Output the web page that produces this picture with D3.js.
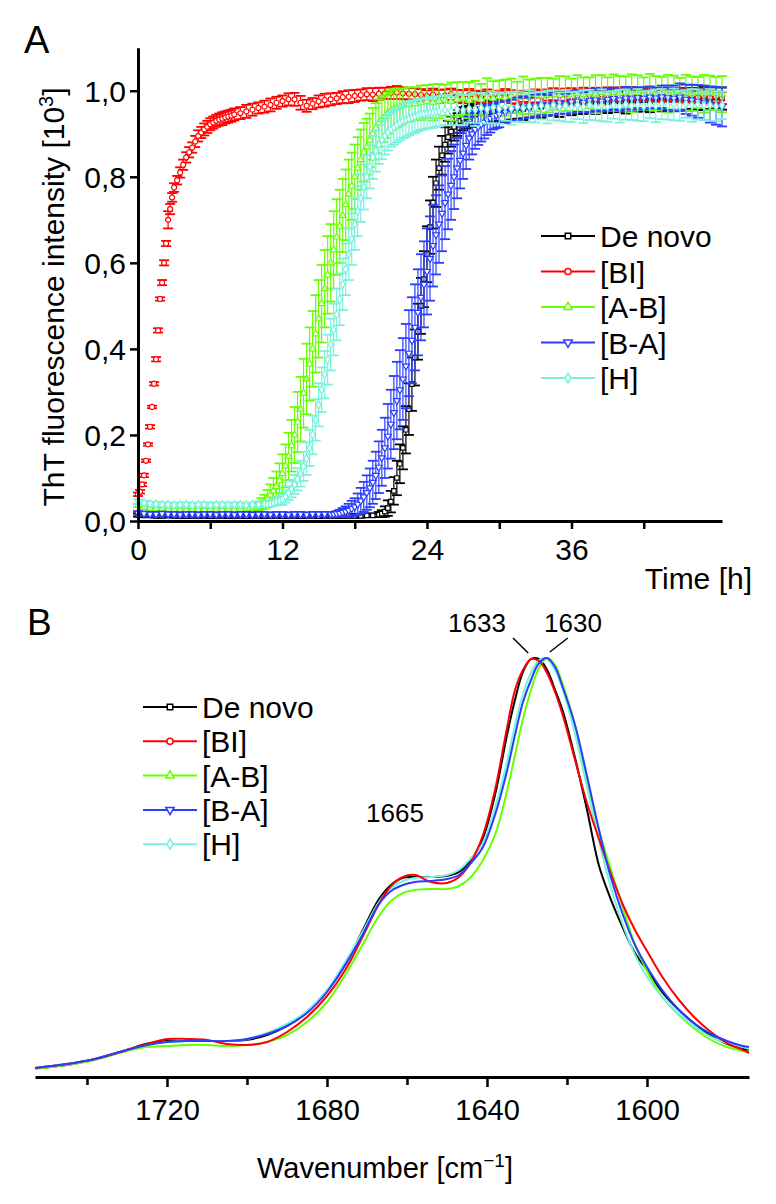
<!DOCTYPE html>
<html><head><meta charset="utf-8">
<script src="https://cdn.jsdelivr.net/npm/d3@7"></script>
<style>
body{margin:0;background:#fff}
svg{display:block}
text{font-family:"Liberation Sans",Arial,Helvetica,sans-serif;fill:#000}
</style>
</head><body>
<svg id="c" width="776" height="1204"></svg>
<script>
// ---------------- DATA ----------------
const seriesNames = ["De novo", "[BI]", "[A-B]", "[B-A]", "[H]"];
const seriesColors = ["#000000", "#ff0000", "#66ff00", "#2a3cff", "#78f2dc"];
const seriesSymbols = ["square", "circle", "triangle", "triangleDown", "diamond"];

// Panel A: ThT fluorescence (x 10^3) vs time [h]; sampling is denser during the growth phase
const deNovoTime = [0,0.5,1,1.5,2,2.5,3,3.5,4,4.5,5,5.5,6,6.5,7,7.5,8,8.5,9,9.5,10,10.5,11,11.5,12,12.5,13,13.5,14,14.5,15,15.5,16,16.5,17,17.5,18,18.5,19,19.5,20,
20.25,20.5,20.75,21,21.25,21.5,21.75,22,22.25,22.5,22.75,23,23.25,23.5,23.75,24,24.25,24.5,24.75,25,25.25,25.5,25.75,26,26.25,26.5,26.75,27,27.25,27.5,27.75,28,
28.5,29,29.5,30,30.5,31,31.5,32,32.5,33,33.5,34,34.5,35,35.5,36,36.5,37,37.5,38,38.5,39,39.5,40,40.5,41,41.5,42,42.5,43,43.5,44,44.5,45,45.5,46,46.5,47,47.5,48,48.5];
const deNovoVal = [0.014,0.013,0.013,0.012,0.012,0.013,0.012,0.012,0.011,0.012,0.012,0.012,0.011,0.012,0.012,0.011,0.012,0.012,0.011,0.012,0.012,0.011,0.012,0.012,0.011,0.012,0.012,0.011,0.012,0.012,0.011,0.012,0.012,0.011,0.012,0.012,0.012,0.012,0.013,0.013,0.015,
0.017,0.022,0.03,0.045,0.07,0.10,0.133,0.17,0.212,0.26,0.318,0.38,0.44,0.50,0.562,0.62,0.683,0.74,0.785,0.82,0.85,0.875,0.892,0.905,0.916,0.925,0.93,0.935,0.938,0.94,0.943,0.945,
0.948,0.95,0.952,0.955,0.953,0.957,0.96,0.958,0.962,0.965,0.963,0.966,0.968,0.965,0.97,0.968,0.972,0.97,0.974,0.972,0.975,0.973,0.976,0.975,0.972,0.977,0.975,0.978,0.976,0.979,0.977,0.98,0.978,0.981,0.979,0.982,0.98,0.983,0.981,0.984,0.982];
const deNovoErr = [0.004,0.004,0.004,0.004,0.004,0.004,0.004,0.004,0.004,0.004,0.004,0.004,0.004,0.004,0.004,0.004,0.004,0.004,0.004,0.004,0.004,0.004,0.004,0.004,0.004,0.004,0.004,0.004,0.004,0.004,0.004,0.004,0.004,0.004,0.004,0.004,0.004,0.004,0.004,0.004,0.006,
0.008,0.012,0.018,0.025,0.032,0.04,0.045,0.05,0.055,0.06,0.062,0.065,0.065,0.065,0.065,0.065,0.062,0.06,0.055,0.05,0.045,0.04,0.038,0.035,0.032,0.03,0.028,0.027,0.026,0.025,0.025,0.025,
0.025,0.026,0.024,0.025,0.026,0.024,0.025,0.026,0.024,0.025,0.026,0.024,0.025,0.026,0.024,0.025,0.026,0.024,0.025,0.026,0.024,0.025,0.026,0.024,0.025,0.026,0.024,0.025,0.026,0.024,0.025,0.026,0.024,0.025,0.026,0.024,0.025,0.026,0.024,0.025,0.026];

const biTime = [0,0.167,0.333,0.5,0.667,0.833,1,1.167,1.333,1.5,1.667,1.833,2,2.167,2.333,2.5,2.667,2.833,3,
3.25,3.5,3.75,4,4.25,4.5,4.75,5,5.25,5.5,5.75,6,6.25,6.5,6.75,7,7.25,7.5,7.75,8,
8.5,9,9.5,10,10.5,11,11.5,12,12.5,13,13.5,14,14.5,15,15.5,16,16.5,17,17.5,18,18.5,19,19.5,20,20.5,21,21.5,22,22.5,23,23.5,24,24.5,25,25.5,26,26.5,27,27.5,28,28.5,29,29.5,30,30.5,31,31.5,32,32.5,33,33.5,34,34.5,35,35.5,36,36.5,37,37.5,38,38.5,39,39.5,40,40.5,41,41.5,42,42.5,43,43.5,44,44.5,45,45.5,46,46.5,47,47.5,48,48.5];
const biVal = [0.062,0.068,0.085,0.106,0.14,0.178,0.219,0.265,0.319,0.376,0.443,0.516,0.554,0.60,0.645,0.70,0.725,0.752,0.775,
0.792,0.81,0.828,0.845,0.857,0.868,0.882,0.895,0.903,0.91,0.916,0.922,0.926,0.93,0.933,0.935,0.938,0.94,0.942,0.945,
0.948,0.952,0.956,0.96,0.963,0.967,0.972,0.976,0.98,0.98,0.972,0.965,0.97,0.975,0.978,0.98,0.982,0.985,0.986,0.988,0.99,0.992,0.991,0.993,0.994,0.995,0.996,0.994,0.993,0.992,
0.99,0.988,0.991,0.987,0.989,0.992,0.988,0.986,0.99,0.987,0.985,0.988,0.984,0.987,0.99,0.986,0.983,0.987,0.985,0.988,0.986,0.99,0.992,0.988,0.991,0.993,0.989,0.992,0.99,0.994,0.991,0.993,0.99,0.995,0.992,0.994,0.991,0.993,0.99,0.992,0.989,0.991,0.988,0.99,0.986,0.989,0.985,0.988,0.984,0.986,0.983];
const biErr = [0.004,0.004,0.004,0.004,0.003,0.003,0.004,0.003,0.004,0.005,0.005,0.004,0.006,0.006,0.006,0.02,0.012,0.01,0.01,
0.01,0.012,0.012,0.012,0.012,0.012,0.013,0.013,0.013,0.014,0.014,0.014,0.014,0.014,0.014,0.015,0.014,0.014,0.014,0.014,
0.014,0.015,0.014,0.013,0.014,0.015,0.014,0.013,0.014,0.015,0.016,0.014,0.013,0.014,0.015,0.014,0.013,0.014,0.015,0.014,0.013,0.014,0.015,0.014,0.013,0.014,0.015,0.014,0.013,0.014,
0.014,0.013,0.014,0.015,0.014,0.013,0.014,0.015,0.014,0.013,0.014,0.015,0.014,0.013,0.014,0.015,0.014,0.013,0.014,0.015,0.014,0.013,0.014,0.015,0.014,0.013,0.014,0.015,0.014,0.013,0.014,0.015,0.014,0.013,0.014,0.015,0.014,0.013,0.014,0.015,0.014,0.013,0.014,0.015,0.014,0.013,0.014,0.015,0.014,0.013,0.014];

const abTime = [0,0.5,1,1.5,2,2.5,3,3.5,4,4.5,5,5.5,6,6.5,7,7.5,8,8.5,9,
9.25,9.5,9.75,10,10.25,10.5,10.75,11,11.25,11.5,11.75,12,12.25,12.5,12.75,13,13.25,13.5,13.75,14,14.25,14.5,14.75,15,15.25,15.5,15.75,16,16.25,16.5,16.75,17,17.25,17.5,17.75,18,18.25,18.5,18.75,19,19.25,19.5,19.75,20,20.25,20.5,20.75,21,21.25,21.5,21.75,22,
22.5,23,23.5,24,24.5,25,25.5,26,26.5,27,27.5,28,28.5,29,29.5,30,30.5,31,31.5,32,32.5,33,33.5,34,34.5,35,35.5,36,36.5,37,37.5,38,38.5,39,39.5,40,40.5,41,41.5,42,42.5,43,43.5,44,44.5,45,45.5,46,46.5,47,47.5,48,48.5];
const abVal = [0.036,0.032,0.030,0.029,0.028,0.027,0.027,0.027,0.026,0.027,0.027,0.026,0.027,0.027,0.026,0.027,0.027,0.027,0.028,
0.028,0.03,0.032,0.035,0.04,0.045,0.052,0.06,0.07,0.08,0.094,0.11,0.128,0.15,0.175,0.2,0.23,0.26,0.297,0.33,0.365,0.4,0.435,0.47,0.505,0.54,0.572,0.6,0.63,0.66,0.685,0.71,0.735,0.76,0.778,0.8,0.82,0.84,0.857,0.87,0.885,0.9,0.913,0.925,0.933,0.94,0.948,0.955,0.958,0.96,0.963,0.965,
0.968,0.97,0.972,0.975,0.973,0.976,0.978,0.975,0.98,0.982,0.978,0.983,0.98,0.985,0.982,0.986,0.984,0.988,0.985,0.989,0.986,0.99,0.988,0.99,0.992,0.99,0.993,0.99,0.994,0.991,0.995,0.992,0.996,0.993,0.996,0.994,0.997,0.994,0.996,0.993,0.997,0.994,0.996,0.993,0.995,0.992,0.995,0.993,0.996,0.993,0.995,0.994,0.992];
const abErr = [0.004,0.004,0.004,0.004,0.004,0.004,0.004,0.004,0.004,0.004,0.004,0.004,0.004,0.004,0.004,0.004,0.004,0.004,0.004,
0.005,0.006,0.008,0.01,0.013,0.016,0.02,0.025,0.03,0.035,0.04,0.045,0.05,0.055,0.06,0.065,0.07,0.075,0.08,0.082,0.085,0.088,0.09,0.09,0.09,0.09,0.09,0.09,0.09,0.088,0.085,0.085,0.082,0.08,0.078,0.075,0.072,0.07,0.068,0.065,0.062,0.06,0.058,0.055,0.052,0.05,0.048,0.046,0.045,0.044,0.042,0.04,
0.04,0.038,0.04,0.038,0.042,0.04,0.036,0.044,0.04,0.038,0.042,0.04,0.036,0.044,0.04,0.038,0.042,0.04,0.036,0.044,0.04,0.038,0.042,0.04,0.036,0.044,0.04,0.038,0.042,0.04,0.036,0.044,0.04,0.038,0.042,0.04,0.036,0.044,0.04,0.038,0.042,0.04,0.036,0.044,0.04,0.038,0.042,0.04,0.036,0.044,0.04,0.038,0.042];

const baTime = [0,0.5,1,1.5,2,2.5,3,3.5,4,4.5,5,5.5,6,6.5,7,7.5,8,8.5,9,9.5,10,10.5,11,11.5,12,12.5,13,13.5,14,14.5,15,15.5,16,
16.25,16.5,16.75,17,17.25,17.5,17.75,18,18.25,18.5,18.75,19,19.25,19.5,19.75,20,20.25,20.5,20.75,21,21.25,21.5,21.75,22,22.25,22.5,22.75,23,23.25,23.5,23.75,24,24.25,24.5,24.75,25,25.25,25.5,25.75,26,26.25,26.5,26.75,27,27.25,27.5,27.75,28,28.25,28.5,28.75,29,29.25,29.5,29.75,30,
30.5,31,31.5,32,32.5,33,33.5,34,34.5,35,35.5,36,36.5,37,37.5,38,38.5,39,39.5,40,40.5,41,41.5,42,42.5,43,43.5,44,44.5,45,45.5,46,46.5,47,47.5,48,48.5];
const baVal = [0.018,0.017,0.016,0.016,0.017,0.016,0.016,0.015,0.016,0.016,0.015,0.016,0.016,0.015,0.016,0.016,0.015,0.016,0.016,0.015,0.016,0.016,0.015,0.016,0.016,0.015,0.016,0.016,0.015,0.016,0.016,0.016,0.016,
0.016,0.017,0.018,0.02,0.022,0.025,0.029,0.033,0.039,0.047,0.056,0.066,0.077,0.09,0.106,0.125,0.147,0.17,0.197,0.225,0.252,0.28,0.305,0.33,0.36,0.39,0.42,0.45,0.485,0.52,0.55,0.58,0.61,0.64,0.665,0.69,0.715,0.74,0.76,0.78,0.8,0.82,0.838,0.855,0.873,0.89,0.9,0.91,0.916,0.922,0.927,0.932,0.936,0.94,0.943,0.945,
0.95,0.955,0.958,0.962,0.96,0.965,0.968,0.966,0.97,0.972,0.969,0.974,0.976,0.973,0.977,0.979,0.976,0.98,0.982,0.979,0.983,0.981,0.984,0.982,0.985,0.983,0.986,0.984,0.982,0.985,0.98,0.978,0.975,0.972,0.968,0.965,0.962];
const baErr = [0.005,0.005,0.005,0.005,0.005,0.005,0.005,0.005,0.005,0.005,0.005,0.005,0.005,0.005,0.005,0.005,0.005,0.005,0.005,0.005,0.005,0.005,0.005,0.005,0.005,0.005,0.005,0.005,0.005,0.005,0.005,0.005,0.005,
0.005,0.006,0.008,0.01,0.012,0.015,0.018,0.02,0.025,0.03,0.035,0.04,0.045,0.05,0.055,0.06,0.065,0.07,0.075,0.08,0.085,0.09,0.092,0.095,0.098,0.1,0.1,0.1,0.1,0.1,0.1,0.1,0.098,0.095,0.092,0.09,0.088,0.085,0.082,0.08,0.075,0.07,0.065,0.06,0.055,0.05,0.048,0.045,0.042,0.04,0.038,0.035,0.033,0.03,0.03,0.03,
0.025,0.024,0.026,0.025,0.024,0.026,0.025,0.024,0.026,0.025,0.024,0.026,0.025,0.024,0.026,0.025,0.024,0.026,0.025,0.024,0.026,0.025,0.024,0.026,0.025,0.024,0.026,0.028,0.03,0.032,0.034,0.036,0.038,0.04,0.042,0.044,0.045];

const hTime = [0,0.5,1,1.5,2,2.5,3,3.5,4,4.5,5,5.5,6,6.5,7,7.5,8,8.5,9,9.5,10,10.5,
10.75,11,11.25,11.5,11.75,12,12.25,12.5,12.75,13,13.25,13.5,13.75,14,14.25,14.5,14.75,15,15.25,15.5,15.75,16,16.25,16.5,16.75,17,17.25,17.5,17.75,18,18.25,18.5,18.75,19,19.25,19.5,19.75,20,20.25,20.5,20.75,21,21.25,21.5,21.75,22,22.25,22.5,22.75,23,23.25,23.5,23.75,24,24.25,24.5,24.75,25,
25.5,26,26.5,27,27.5,28,28.5,29,29.5,30,30.5,31,31.5,32,32.5,33,33.5,34,34.5,35,35.5,36,36.5,37,37.5,38,38.5,39,39.5,40,40.5,41,41.5,42,42.5,43,43.5,44,44.5,45,45.5,46,46.5,47,47.5,48,48.5];
const hVal = [0.045,0.042,0.040,0.039,0.038,0.038,0.037,0.038,0.038,0.037,0.038,0.038,0.037,0.038,0.038,0.037,0.038,0.038,0.037,0.038,0.038,0.039,
0.039,0.04,0.042,0.045,0.047,0.05,0.057,0.065,0.074,0.085,0.097,0.11,0.127,0.145,0.17,0.2,0.235,0.27,0.305,0.34,0.375,0.41,0.445,0.48,0.515,0.55,0.585,0.62,0.655,0.69,0.72,0.75,0.776,0.8,0.823,0.845,0.86,0.875,0.886,0.895,0.903,0.91,0.915,0.92,0.925,0.93,0.932,0.935,0.938,0.94,0.943,0.945,0.946,0.948,0.949,0.95,0.951,0.952,
0.955,0.953,0.957,0.955,0.958,0.956,0.96,0.957,0.961,0.958,0.962,0.959,0.963,0.96,0.964,0.961,0.965,0.962,0.966,0.963,0.965,0.962,0.966,0.963,0.967,0.964,0.966,0.963,0.967,0.964,0.968,0.965,0.967,0.964,0.968,0.965,0.969,0.966,0.968,0.965,0.969,0.966,0.968,0.965,0.967,0.964,0.966];
const hErr = [0.005,0.005,0.005,0.005,0.005,0.005,0.005,0.005,0.005,0.005,0.005,0.005,0.005,0.005,0.005,0.005,0.005,0.005,0.005,0.005,0.005,0.005,
0.005,0.006,0.007,0.008,0.01,0.012,0.014,0.016,0.019,0.022,0.026,0.03,0.034,0.038,0.042,0.045,0.048,0.05,0.052,0.055,0.058,0.06,0.06,0.06,0.06,0.06,0.06,0.06,0.06,0.06,0.058,0.055,0.052,0.05,0.05,0.05,0.048,0.045,0.045,0.043,0.042,0.04,0.04,0.04,0.04,0.04,0.04,0.039,0.038,0.038,0.037,0.036,0.036,0.036,0.036,0.036,0.035,0.035,
0.035,0.033,0.037,0.035,0.032,0.038,0.035,0.033,0.037,0.035,0.032,0.038,0.035,0.033,0.037,0.035,0.032,0.038,0.035,0.033,0.037,0.035,0.032,0.038,0.035,0.033,0.037,0.035,0.032,0.038,0.035,0.033,0.037,0.035,0.032,0.038,0.035,0.033,0.037,0.035,0.032,0.038,0.035,0.033,0.037,0.035,0.032];

const yTicksA = [0, 0.2, 0.4, 0.6, 0.8, 1.0];
const xTicksA = [0, 6, 12, 18, 24, 30, 36, 42];
const xTickLabelsA = [0, 12, 24, 36];

// Panel B: FTIR amide I band, normalised absorbance (a.u.)
const wavenumbers = [1753,1745,1738,1730,1725,1720,1715,1710,1705,1700,1695,1690,1685,1680,1675,1671,1667,1664,1661,1658,1654,1650,1647,1644,1641,1638,1635,1633,1631,1629,1627,1625,1623,1621,1618,1615,1612,1609,1606,1603,1600,1596,1592,1588,1584,1580,1576,1574.5];
const irDeNovo = [0.022,0.030,0.045,0.068,0.083,0.090,0.090,0.090,0.090,0.093,0.105,0.128,0.163,0.215,0.288,0.368,0.445,0.480,0.498,0.500,0.500,0.503,0.513,0.543,0.598,0.705,0.855,0.943,1.013,1.045,1.045,1.018,0.968,0.913,0.798,0.668,0.528,0.443,0.372,0.31,0.2675,0.21,0.1675,0.1325,0.103,0.083,0.070,0.068];
const irBI = [0.0225,0.0325,0.045,0.0675,0.0825,0.095,0.095,0.0925,0.0825,0.08,0.0875,0.1125,0.15,0.2025,0.275,0.3525,0.4325,0.4775,0.50,0.505,0.4875,0.485,0.50,0.5375,0.605,0.7175,0.8725,0.9675,1.0175,1.045,1.04,1.01,0.9625,0.9025,0.7925,0.685,0.595,0.5075,0.43,0.3675,0.315,0.2475,0.1925,0.1475,0.1125,0.085,0.0675,0.06];
const irAB = [0.02,0.03,0.0425,0.065,0.075,0.0775,0.08,0.08,0.0775,0.08,0.0875,0.105,0.1375,0.1875,0.2625,0.3325,0.4025,0.44,0.46,0.4675,0.47,0.47,0.4775,0.50,0.5425,0.605,0.715,0.805,0.895,0.9675,1.0225,1.0475,1.03,0.98,0.88,0.7425,0.6175,0.5175,0.4225,0.33,0.265,0.1975,0.155,0.12,0.0925,0.075,0.065,0.0625];
const irBA = [0.0225,0.0325,0.045,0.0675,0.08,0.0875,0.09,0.09,0.09,0.095,0.1075,0.1275,0.16,0.2125,0.2875,0.3575,0.4325,0.465,0.48,0.4875,0.49,0.495,0.505,0.535,0.575,0.655,0.765,0.855,0.9375,0.9925,1.035,1.0475,1.025,0.9725,0.88,0.7525,0.6175,0.4975,0.405,0.33,0.275,0.215,0.1675,0.1325,0.1075,0.09,0.0775,0.075];
const irH = [0.0225,0.0325,0.045,0.0675,0.08,0.0875,0.09,0.09,0.09,0.095,0.11,0.1325,0.165,0.2175,0.295,0.365,0.4375,0.4725,0.49,0.4975,0.50,0.505,0.5175,0.5475,0.585,0.6725,0.7875,0.88,0.9575,1.01,1.0425,1.045,1.0175,0.9675,0.8575,0.725,0.59,0.4725,0.38,0.305,0.25,0.1975,0.1575,0.125,0.1,0.085,0.075,0.07];
const xTicksB = [1740, 1720, 1700, 1680, 1660, 1640, 1620, 1600];
const xTickLabelsB = [1720, 1680, 1640, 1600];
const peakLabels = ["1665", "1633", "1630"];

// ---------------- DRAW ----------------
const svg = d3.select("#c");
const FONT = '"Liberation Sans",Arial,Helvetica,sans-serif';

function symbolPath(name, size) {
  const types = {square: d3.symbolSquare, circle: d3.symbolCircle, triangle: d3.symbolTriangle,
                 triangleDown: d3.symbolTriangle, diamond: d3.symbolDiamond};
  return d3.symbol().type(types[name]).size(size)();
}
function symbolRot(name) { return name === "triangleDown" ? " rotate(180)" : ""; }

// ===== Panel A =====
const xA = d3.scaleLinear().domain([0, 48.5]).range([138, 722]);
const yA = d3.scaleLinear().domain([0, 1.1]).range([521, 47.7]);

svg.append("text").attr("x", 24).attr("y", 53).attr("font-size", 38).text("A");

const seriesA = [
  {t: deNovoTime, v: deNovoVal, e: deNovoErr},
  {t: biTime, v: biVal, e: biErr},
  {t: abTime, v: abVal, e: abErr},
  {t: baTime, v: baVal, e: baErr},
  {t: hTime, v: hVal, e: hErr}
];
const gA = svg.append("g");
const capW = 10;
seriesA.forEach((s, si) => {
  const col = seriesColors[si];
  const pts = s.t.map((t, i) => ({t, v: s.v[i], e: s.e[i]}))
                 .filter(d => d.v !== undefined && d.e !== undefined);
  const g = gA.append("g");
  const bars = g.selectAll("g.eb").data(pts).join("g").attr("class", "eb");
  bars.append("line")
    .attr("x1", d => xA(d.t)).attr("x2", d => xA(d.t))
    .attr("y1", d => yA(d.v - d.e)).attr("y2", d => yA(d.v + d.e))
    .attr("stroke", col).attr("stroke-width", 1.2);
  bars.append("line")
    .attr("x1", d => xA(d.t) - capW / 2).attr("x2", d => xA(d.t) + capW / 2)
    .attr("y1", d => yA(d.v + d.e)).attr("y2", d => yA(d.v + d.e))
    .attr("stroke", col).attr("stroke-width", 1.8);
  bars.append("line")
    .attr("x1", d => xA(d.t) - capW / 2).attr("x2", d => xA(d.t) + capW / 2)
    .attr("y1", d => yA(d.v - d.e)).attr("y2", d => yA(d.v - d.e))
    .attr("stroke", col).attr("stroke-width", 1.8);
  g.selectAll("path.mk").data(pts).join("path").attr("class", "mk")
    .attr("d", symbolPath(seriesSymbols[si], 20))
    .attr("transform", d => `translate(${xA(d.t)},${yA(d.v)})` + symbolRot(seriesSymbols[si]))
    .attr("fill", "#fff").attr("stroke", col).attr("stroke-width", 1.2);
});

// axes A
const axLeftA = svg.append("g").attr("transform", "translate(138,0)")
  .call(d3.axisLeft(yA).tickValues(yTicksA).tickSize(8).tickSizeOuter(0).tickPadding(4)
    .tickFormat(d => d3.format(".1f")(d).replace(".", ",")));
const axBottomA = svg.append("g").attr("transform", "translate(0,521)")
  .call(d3.axisBottom(xA).tickValues(xTicksA).tickSize(8).tickSizeOuter(0).tickPadding(10)
    .tickFormat(d => xTickLabelsA.includes(d) ? String(d) : ""));
[axLeftA, axBottomA].forEach(a => {
  a.select(".domain").attr("stroke", "#000").attr("stroke-width", 3);
  a.selectAll(".tick line").attr("stroke", "#000").attr("stroke-width", 2.5);
  a.selectAll(".tick text").attr("font-size", 30).attr("font-family", FONT).attr("fill", "#000");
});
axLeftA.selectAll(".tick text").attr("dy", "0.36em");

svg.append("text").attr("x", 752).attr("y", 589).attr("text-anchor", "end")
  .attr("font-size", 30).text("Time [h]");

const yl = svg.append("text").attr("transform", "translate(64,297) rotate(-90)")
  .attr("text-anchor", "middle").attr("font-size", 30);
yl.append("tspan").text("ThT fluorescence intensity [10");
yl.append("tspan").attr("font-size", 20).attr("dy", -11).text("3");
yl.append("tspan").attr("dy", 11).text("]");

// legend A
const legA = svg.append("g");
seriesNames.forEach((n, i) => {
  const y = 236 + i * 35.5;
  legA.append("line").attr("x1", 541).attr("x2", 595).attr("y1", y).attr("y2", y)
    .attr("stroke", seriesColors[i]).attr("stroke-width", 2);
  legA.append("path").attr("d", symbolPath(seriesSymbols[i], 30))
    .attr("transform", `translate(568,${y})` + symbolRot(seriesSymbols[i]))
    .attr("fill", "#fff").attr("stroke", seriesColors[i]).attr("stroke-width", 1.5);
  legA.append("text").attr("x", 600).attr("y", y + 11).attr("font-size", 30).text(n);
});

// ===== Panel B =====
const xB = d3.scaleLinear().domain([1753, 1574.5]).range([35, 749]);
const yB = d3.scaleLinear().domain([0, 1]).range([1077, 677]);

svg.append("text").attr("x", 27).attr("y", 635).attr("font-size", 37).text("B");

const irSeries = [irDeNovo, irBI, irAB, irBA, irH];
const drawOrder = [0, 2, 4, 1, 3];
const line = d3.line().x(d => xB(d[0])).y(d => yB(d[1])).curve(d3.curveCatmullRom.alpha(0.5));
drawOrder.forEach(si => {
  const pts = wavenumbers.map((w, i) => [w, irSeries[si][i]]);
  svg.append("path").attr("d", line(pts)).attr("fill", "none")
    .attr("stroke", seriesColors[si]).attr("stroke-width", 2);
});

const axB = svg.append("g").attr("transform", "translate(0,1077)")
  .call(d3.axisBottom(xB).tickValues(xTicksB).tickSize(10).tickSizeOuter(0).tickPadding(12)
    .tickFormat(d => xTickLabelsB.includes(d) ? String(d) : ""));
axB.select(".domain").attr("stroke", "#000").attr("stroke-width", 3);
axB.selectAll(".tick line").attr("stroke", "#000").attr("stroke-width", 2.5)
  .attr("y2", d => xTickLabelsB.includes(d) ? 10 : 8);
axB.selectAll(".tick text").attr("font-size", 29).attr("font-family", FONT).attr("fill", "#000");

const xl = svg.append("text").attr("x", 385).attr("y", 1178).attr("text-anchor", "middle").attr("font-size", 29);
xl.append("tspan").text("Wavenumber [cm");
xl.append("tspan").attr("font-size", 19).attr("dy", -11).text("\u22121");
xl.append("tspan").attr("dy", 11).text("]");

// peak annotations
svg.append("text").attr("x", 395).attr("y", 822).attr("text-anchor", "middle").attr("font-size", 26).text(peakLabels[0]);
svg.append("text").attr("x", 477).attr("y", 632).attr("text-anchor", "middle").attr("font-size", 26).text(peakLabels[1]);
svg.append("text").attr("x", 573).attr("y", 632).attr("text-anchor", "middle").attr("font-size", 26).text(peakLabels[2]);
svg.append("line").attr("x1", xB(1633.5)).attr("y1", 638).attr("x2", xB(1629.7)).attr("y2", 653).attr("stroke", "#000").attr("stroke-width", 1.5);
svg.append("line").attr("x1", xB(1619.8)).attr("y1", 638).attr("x2", xB(1624.3)).attr("y2", 652).attr("stroke", "#000").attr("stroke-width", 1.5);

// legend B
const legB = svg.append("g");
seriesNames.forEach((n, i) => {
  const y = 707 + i * 34.3;
  legB.append("line").attr("x1", 143).attr("x2", 197).attr("y1", y).attr("y2", y)
    .attr("stroke", seriesColors[i]).attr("stroke-width", 2);
  legB.append("path").attr("d", symbolPath(seriesSymbols[i], 30))
    .attr("transform", `translate(170,${y})` + symbolRot(seriesSymbols[i]))
    .attr("fill", "#fff").attr("stroke", seriesColors[i]).attr("stroke-width", 1.5);
  legB.append("text").attr("x", 202).attr("y", y + 11).attr("font-size", 30).text(n);
});
</script>
</body></html>
